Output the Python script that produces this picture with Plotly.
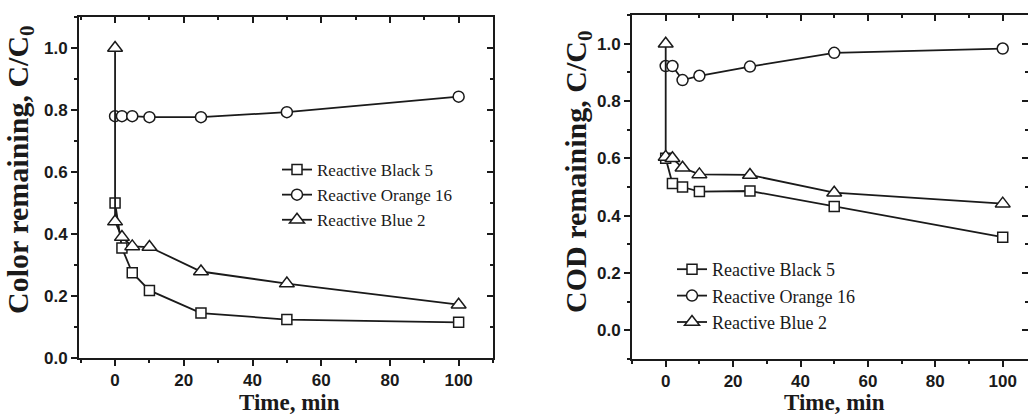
import plotly.graph_objects as go

# Sampling times (min); the Blue 2 series carries the initial C/C0 = 1 point at t = 0
time_main = [0, 2, 5, 10, 25, 50, 100]
time_blue = [0, 0, 2, 5, 10, 25, 50, 100]

# Colour removal, C/C0
color_black5 = [0.50, 0.355, 0.275, 0.218, 0.145, 0.124, 0.115]
color_orange16 = [0.78, 0.78, 0.78, 0.777, 0.777, 0.793, 0.843]
color_blue2 = [1.0, 0.44, 0.39, 0.36, 0.358, 0.279, 0.24, 0.172]

# COD removal, C/C0
cod_black5 = [0.60, 0.512, 0.50, 0.484, 0.486, 0.432, 0.325]
cod_orange16 = [0.922, 0.922, 0.873, 0.888, 0.92, 0.968, 0.983]
cod_blue2 = [1.0, 0.605, 0.60, 0.567, 0.544, 0.542, 0.48, 0.442]

series_names = ["Reactive Black 5", "Reactive Orange 16", "Reactive Blue 2"]
x_ticks = [0, 20, 40, 60, 80, 100]

W, H = 1028, 415
INK = "#1a1a1a"
SERIF = "Liberation Serif"
SANS = "Liberation Sans"

symbols = ["square", "circle", "triangle-up"]
sizes = [10, 11, 13]


def add_panel(fig, xs_list, ys_list, axes_list, legend_name):
    for name, xs, ys, sym, sz, (xa, ya) in zip(series_names, xs_list, ys_list,
                                               symbols, sizes, axes_list):
        fig.add_trace(go.Scatter(
            x=xs, y=ys, name=name, mode="lines+markers",
            xaxis=xa, yaxis=ya, legend=legend_name,
            line=dict(color=INK, width=1.8),
            marker=dict(symbol=sym, size=sz, color="white",
                        line=dict(color=INK, width=1.5)),
        ))


fig = go.Figure()
# The Blue 2 series sits on the mirrored (top/right) axes of each panel;
# those axes share the exact ranges of the bottom/left ones.
add_panel(fig, [time_main, time_main, time_blue],
          [color_black5, color_orange16, color_blue2],
          [("x", "y"), ("x", "y"), ("x3", "y3")], "legend")
add_panel(fig, [time_main, time_main, time_blue],
          [cod_black5, cod_orange16, cod_blue2],
          [("x2", "y2"), ("x2", "y2"), ("x4", "y4")], "legend2")

tick_font = dict(family=SANS, size=17, color=INK, weight="bold")


def main_axis(**kw):
    d = dict(showline=True, linewidth=2, linecolor=INK, showgrid=False,
             zeroline=False, ticks="outside", ticklen=6, tickwidth=1.8,
             tickcolor=INK, tickfont=tick_font)
    d.update(kw)
    return d


def mirror_axis(**kw):
    d = dict(showline=True, linewidth=2, linecolor=INK, showgrid=False,
             zeroline=False, ticks="inside", ticklen=6, tickwidth=1.8,
             tickcolor=INK, showticklabels=False)
    d.update(kw)
    return d


minor_x = dict(dtick=10, ticklen=3, tickwidth=1.5, tickcolor=INK)
minor_y = dict(dtick=0.1, ticklen=3, tickwidth=1.5, tickcolor=INK)

xd1 = [79 / W, 493 / W]
yd1 = [57 / H, 398 / H]
xd2 = [632 / W, 1.0]
yd2 = [56 / H, 400 / H]

xr1 = [-10.5, 110]
yr1 = [0, 1.1]
xr2 = [-10, 107.5]
yr2 = [-0.1, 1.1]

fig.update_layout(
    width=W, height=H,
    margin=dict(l=0, r=0, t=0, b=0, autoexpand=False),
    paper_bgcolor="white", plot_bgcolor="white",
    showlegend=True,
    xaxis=main_axis(domain=xd1, range=xr1, anchor="y", tickvals=x_ticks,
                    minor=dict(ticks="outside", **minor_x)),
    yaxis=main_axis(domain=yd1, range=yr1, anchor="x", dtick=0.2, tick0=0,
                    tickformat=".1f", minor=dict(ticks="outside", **minor_y)),
    xaxis3=mirror_axis(overlaying="x", anchor="y3", side="top", range=xr1,
                       tickvals=x_ticks, minor=dict(ticks="inside", **minor_x)),
    yaxis3=mirror_axis(overlaying="y", anchor="x3", side="right", range=yr1,
                       dtick=0.2, tick0=0, minor=dict(ticks="inside", **minor_y)),
    xaxis2=main_axis(domain=xd2, range=xr2, anchor="y2", tickvals=x_ticks,
                     minor=dict(ticks="outside", **minor_x)),
    yaxis2=main_axis(domain=yd2, range=yr2, anchor="x2", dtick=0.2, tick0=0,
                     tickformat=".1f", minor=dict(ticks="outside", **minor_y)),
    xaxis4=mirror_axis(overlaying="x2", anchor="y4", side="top", range=xr2,
                       tickvals=x_ticks, minor=dict(ticks="inside", **minor_x)),
    yaxis4=mirror_axis(overlaying="y2", anchor="x4", side="right", range=yr2,
                       dtick=0.2, tick0=0, minor=dict(ticks="inside", **minor_y)),
    legend=dict(x=277 / W, y=1 - 152 / H, xanchor="left", yanchor="top",
                bgcolor="rgba(0,0,0,0)", borderwidth=0,
                font=dict(family=SERIF, size=17, color=INK),
                tracegroupgap=0),
    legend2=dict(x=672 / W, y=1 - 251 / H, xanchor="left", yanchor="top",
                 bgcolor="rgba(0,0,0,0)", borderwidth=0,
                 font=dict(family=SERIF, size=18, color=INK),
                 tracegroupgap=0),
)

title_font = dict(family=SERIF, size=23, color=INK, weight="bold")
for cx in (289, 834):
    fig.add_annotation(text="Time, min", xref="paper", yref="paper",
                       x=cx / W, y=1 - 402.5 / H, xanchor="center",
                       yanchor="middle", showarrow=False, font=title_font)

ytitle_font = dict(family=SERIF, size=30, color=INK, weight="bold")
fig.add_annotation(text="Color remaining, C/C<sub>0</sub>", xref="paper",
                   yref="paper", x=20 / W, y=1 - 170 / H, textangle=-90,
                   xanchor="center", yanchor="middle",
                   showarrow=False, font=ytitle_font)
fig.add_annotation(text="COD remaining, C/C<sub>0</sub>", xref="paper",
                   yref="paper", x=578 / W, y=1 - 172 / H, textangle=-90,
                   xanchor="center", yanchor="middle",
                   showarrow=False, font=ytitle_font)

fig.write_html("out.html")
